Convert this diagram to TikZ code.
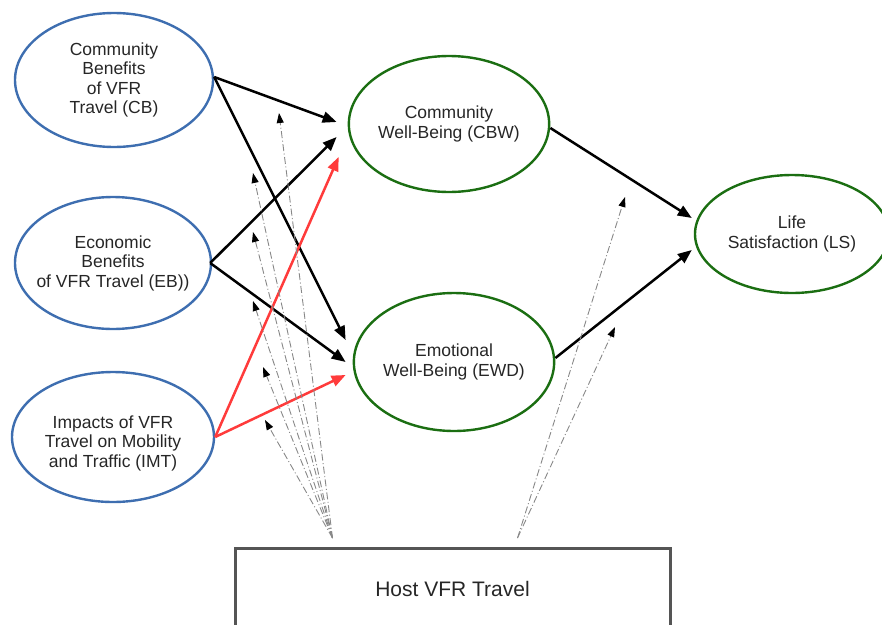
\documentclass[tikz,border=0pt]{standalone}
\usepackage{fontspec}
\setmainfont{Liberation Sans}
\usetikzlibrary{shapes.geometric,arrows.meta,calc}
\definecolor{eblue}{HTML}{3E6EB0}
\definecolor{egreen}{HTML}{1B6E12}
\definecolor{ered}{HTML}{FF3B3B}
\definecolor{boxgray}{HTML}{555555}
\definecolor{modgray}{HTML}{888888}
\begin{document}
\begin{tikzpicture}[x=1pt,y=-1pt,
  ellbase/.style={ellipse, draw, line width=2.4pt, inner sep=0pt, align=center,
    font=\fontsize{17.5}{19.5}\selectfont, text=black!85},
  blueell/.style={ellbase, draw=eblue},
  greenell/.style={ellbase, draw=egreen},
  elltext/.style={align=center, font=\fontsize{17.5}{19.5}\selectfont, text=black!85, inner sep=0pt},
  blk/.style={line width=2.5pt, black, -{Triangle[length=14pt,width=11pt]}},
  redarr/.style={line width=2.5pt, ered, -{Triangle[length=14pt,width=11pt]}},
  modarr/.style={draw=modgray, line width=0.9pt, dash pattern=on 7pt off 2.5pt on 1pt off 2.5pt,
    -{Triangle[length=10pt,width=7pt,color=black]}},
  hostbox/.style={draw=boxgray, line width=3pt, font=\fontsize{21}{24}\selectfont, text=black!85}
]
\useasboundingbox (0,0) rectangle (882,624);
\clip (0,0) rectangle (882,624);

% exogenous constructs
\node[blueell, minimum width=198pt, minimum height=134pt] (CB) at (114,80) {Community\\Benefits\\of VFR\\Travel (CB)};
\node[blueell, minimum width=196pt, minimum height=132pt] (EB) at (113,263) {};
\node[elltext] (EBt) at (113,263) {Economic\\Benefits\\of VFR Travel (EB))};
\node[blueell, minimum width=202pt, minimum height=130pt] (IMT) at (113,437) {};
\node[elltext] (IMTt) at (113,443) {Impacts of VFR\\Travel on Mobility\\and Traffic (IMT)};

% endogenous constructs
\node[greenell, minimum width=198pt, minimum height=136pt] (CBW) at (449,124) {Community\\Well-Being (CBW)};
\node[greenell, minimum width=198pt, minimum height=138pt] (EWD) at (454,362) {Emotional\\Well-Being (EWD)};
\node[greenell, minimum width=194pt, minimum height=118pt] (LS) at (792,234) {Life\\Satisfaction (LS)};

% moderator
\node[hostbox, minimum width=435pt, minimum height=84pt, anchor=north] (Host) at (452.5,547) {\raisebox{4pt}{Host VFR Travel}};

% structural paths
\draw[blk] ($(CB.east)+(0,-3)$) -- ($(CBW.west)+(-11,-2)$);
\draw[blk] ($(CB.east)+(0,-3)$) -- ($(EWD.west)+(-7,-22)$);
\draw[blk] ($(EB.east)+(-2,0)$) -- ($(CBW.west)+(-11,13)$);
\draw[blk] ($(EB.east)+(-2,0)$) -- ($(EWD.west)+(-7,0)$);
\draw[redarr] (IMT.east) -- ($(CBW.west)+(-9,33)$);
\draw[redarr] (IMT.east) -- ($(EWD.west)+(-7,13)$);
\draw[blk] ($(CBW.east)+(0,4)$) -- ($(LS.west)+(-2,-16)$);
\draw[blk] ($(EWD.east)+(0,-4)$) -- ($(LS.west)+(-2,16)$);

% moderating effects
\coordinate (m1) at ($(Host.north)+(-120,-9)$);
\coordinate (m2) at ($(Host.north)+(65,-9)$);
\coordinate (t1) at (279,113);
\coordinate (t2) at (253,173);
\coordinate (t3) at (253,232);
\coordinate (t4) at (253,301);
\coordinate (t5) at (263,367);
\coordinate (t6) at (265,420);
\coordinate (r1) at (625,197);
\coordinate (r2) at (615,327);
\foreach \t in {t1,t2,t3,t4,t5,t6} \draw[modarr] (m1) -- (\t);
\foreach \t in {r1,r2} \draw[modarr] (m2) -- (\t);
\end{tikzpicture}
\end{document}
